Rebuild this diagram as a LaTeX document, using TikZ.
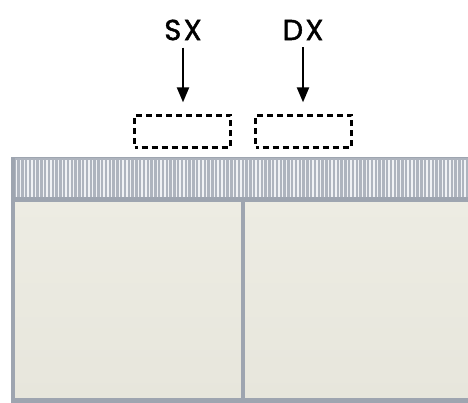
\documentclass[tikz,border=0pt]{standalone}
\usepackage{fontspec}
\setmainfont{Poppins}
\newfontfamily\lblfont{Poppins}[FakeBold=1.5,LetterSpace=8]
\usetikzlibrary{arrows.meta}
\definecolor{frameg}{HTML}{9EA5B0}
\definecolor{grilleg}{HTML}{AEB4BE}
\definecolor{grillew}{HTML}{F0F2F5}
\definecolor{panelc}{HTML}{EDECE3}
\definecolor{panelh}{HTML}{E7E6DC}
\tikzset{
  lbl/.style={font=\lblfont\fontsize{29}{29}\selectfont, text=black, inner sep=0pt},
  slot/.style={draw=black, line width=2.3pt, dash pattern=on 6pt off 4pt, dash phase=3pt, minimum width=96pt, minimum height=32pt, inner sep=0pt},
  arr/.style={-{Triangle[length=15pt,width=12pt]}, line width=2.3pt},
}
\begin{document}
\begin{tikzpicture}[x=1pt,y=-1pt]
\useasboundingbox (0,0) rectangle (468,403);
\fill[white] (0,0) rectangle (468,403);
% grille band
\fill[grilleg] (11,157) rectangle (470,200);
\foreach \i in {0,...,120} {
  \fill[grillew] ({16+3.8*\i},160) rectangle ({17.4+3.8*\i},197);
}
\draw[frameg, line width=1pt] (11,157.5) -- (470,157.5);
% panels
\fill[top color=panelc, bottom color=panelh] (13,200) rectangle (470,399);
\fill[frameg] (11,157) rectangle (14.5,403);
\fill[frameg] (11,197.5) rectangle (470,202);
\fill[frameg] (241,200) rectangle (245,403);
\fill[frameg] (11,397.5) rectangle (470,403);
% labels, slots, arrows
\node[lbl] (sx) at (183,30) {SX};
\node[lbl] (dx) at (303,30) {DX};
\node[slot] (bsx) at (182.5,131.5) {};
\node[slot] (bdx) at (303.5,131.5) {};
\draw[arr, shorten <=7pt, shorten >=12pt] (sx.south) -- (sx.south |- bsx.north);
\draw[arr, shorten <=7pt, shorten >=12pt] (dx.south) -- (dx.south |- bdx.north);
\end{tikzpicture}
\end{document}
